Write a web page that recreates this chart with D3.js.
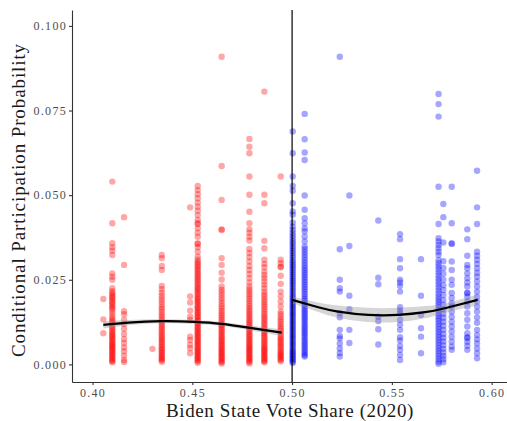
<!DOCTYPE html>
<html>
<head>
<meta charset="utf-8">
<script src="https://cdn.jsdelivr.net/npm/d3@7"></script>
<style>
  body { margin: 0; background: #ffffff; }
  svg { display: block; }
  .axis text { font-family: "Liberation Serif", "Times New Roman", serif; font-size: 12px; fill: #4d4d4d; letter-spacing: 1.3px; }
  .axis path, .axis line { stroke: #333333; stroke-width: 1.1px; }
  .title { font-family: "Liberation Serif", "Times New Roman", serif; font-size: 19px; fill: #1a1a1a; }
</style>
</head>
<body>
<svg id="chart" width="507" height="421"></svg>
<script>
// Axis limits and tick labels
const xLimits = [0.3897, 0.6077];
const yLimits = [-0.0052, 0.1047];
const xTicks = [0.40, 0.45, 0.50, 0.55, 0.60];
const yTicks = [0.000, 0.025, 0.050, 0.075, 0.100];
const cutoff = 0.50;

// Conditional participation probabilities, one array per state (by Biden vote share)
const v4054 = [0.0193, 0.0133, 0.0092];
const v4099 = [0.0540, 0.0417, 0.0358, 0.0346, 0.0336, 0.0323, 0.0269, 0.0259, 0.0250, 0.0225, 0.0216, 0.0211, 0.0206, 0.0200, 0.0197, 0.0191, 0.0186, 0.0181, 0.0176, 0.0170, 0.0166, 0.0160, 0.0151, 0.0143, 0.0136, 0.0130, 0.0126, 0.0121, 0.0114, 0.0109, 0.0104, 0.0098, 0.0094, 0.0089, 0.0085, 0.0081, 0.0077, 0.0072, 0.0068, 0.0064, 0.0060, 0.0056, 0.0052, 0.0049, 0.0045, 0.0041, 0.0037, 0.0033, 0.0029, 0.0025, 0.0021, 0.0017, 0.0013, 0.0009, 0.0006];
const v4158 = [0.0435, 0.0294, 0.0157, 0.0148, 0.0131, 0.0119, 0.0105, 0.0090, 0.0075, 0.0063, 0.0050, 0.0039, 0.0026, 0.0013, 0.0007];
const v4300 = [0.0046];
const v4347 = [0.0323, 0.0314, 0.0291, 0.0279, 0.0232, 0.0222, 0.0212, 0.0203, 0.0194, 0.0186, 0.0177, 0.0169, 0.0162, 0.0154, 0.0147, 0.0140, 0.0133, 0.0127, 0.0121, 0.0115, 0.0109, 0.0103, 0.0097, 0.0092, 0.0086, 0.0081, 0.0076, 0.0071, 0.0066, 0.0061, 0.0056, 0.0051, 0.0046, 0.0042, 0.0037, 0.0033, 0.0028, 0.0024, 0.0020, 0.0016, 0.0012, 0.0008];
const v4489 = [0.0464, 0.0201, 0.0183, 0.0159, 0.0141, 0.0131, 0.0082, 0.0072, 0.0058, 0.0048, 0.0033];
const v4527 = [0.0527, 0.0515, 0.0503, 0.0491, 0.0478, 0.0466, 0.0454, 0.0441, 0.0427, 0.0417, 0.0415, 0.0402, 0.0389, 0.0377, 0.0358, 0.0356, 0.0346, 0.0333, 0.0318, 0.0309, 0.0303, 0.0298, 0.0292, 0.0287, 0.0281, 0.0276, 0.0270, 0.0265, 0.0260, 0.0254, 0.0249, 0.0244, 0.0238, 0.0233, 0.0228, 0.0223, 0.0218, 0.0213, 0.0208, 0.0203, 0.0198, 0.0193, 0.0188, 0.0184, 0.0179, 0.0174, 0.0169, 0.0165, 0.0160, 0.0155, 0.0151, 0.0146, 0.0141, 0.0137, 0.0132, 0.0128, 0.0123, 0.0119, 0.0114, 0.0110, 0.0105, 0.0101, 0.0096, 0.0092, 0.0088, 0.0083, 0.0079, 0.0075, 0.0070, 0.0066, 0.0062, 0.0058, 0.0053, 0.0049, 0.0045, 0.0041, 0.0037, 0.0033, 0.0029, 0.0025, 0.0021, 0.0017, 0.0013, 0.0009, 0.0005];
const v4647 = [0.0909, 0.0586, 0.0486, 0.0399, 0.0397, 0.0314, 0.0294, 0.0271, 0.0251, 0.0230, 0.0221, 0.0213, 0.0205, 0.0196, 0.0188, 0.0180, 0.0172, 0.0165, 0.0158, 0.0151, 0.0145, 0.0139, 0.0133, 0.0127, 0.0121, 0.0116, 0.0111, 0.0106, 0.0101, 0.0096, 0.0091, 0.0086, 0.0081, 0.0077, 0.0072, 0.0068, 0.0063, 0.0059, 0.0055, 0.0050, 0.0046, 0.0042, 0.0038, 0.0034, 0.0030, 0.0026, 0.0022, 0.0018, 0.0014, 0.0010, 0.0006, 0.0003];
const v4786 = [0.0666, 0.0643, 0.0624, 0.0555, 0.0501, 0.0451, 0.0417, 0.0399, 0.0389, 0.0377, 0.0366, 0.0341, 0.0329, 0.0317, 0.0304, 0.0291, 0.0279, 0.0267, 0.0255, 0.0242, 0.0230, 0.0222, 0.0215, 0.0208, 0.0201, 0.0194, 0.0187, 0.0180, 0.0173, 0.0167, 0.0161, 0.0155, 0.0149, 0.0143, 0.0137, 0.0131, 0.0126, 0.0121, 0.0116, 0.0111, 0.0106, 0.0101, 0.0096, 0.0091, 0.0086, 0.0082, 0.0077, 0.0073, 0.0068, 0.0064, 0.0059, 0.0055, 0.0051, 0.0047, 0.0043, 0.0039, 0.0035, 0.0031, 0.0027, 0.0023, 0.0019, 0.0015, 0.0011, 0.0007, 0.0003];
const v4861 = [0.0806, 0.0501, 0.0476, 0.0365, 0.0343, 0.0309, 0.0297, 0.0287, 0.0274, 0.0264, 0.0255, 0.0245, 0.0235, 0.0225, 0.0215, 0.0207, 0.0200, 0.0192, 0.0185, 0.0178, 0.0171, 0.0164, 0.0157, 0.0150, 0.0144, 0.0138, 0.0132, 0.0126, 0.0120, 0.0114, 0.0108, 0.0103, 0.0098, 0.0093, 0.0088, 0.0083, 0.0078, 0.0073, 0.0068, 0.0063, 0.0058, 0.0053, 0.0049, 0.0045, 0.0041, 0.0037, 0.0033, 0.0029, 0.0025, 0.0021, 0.0017, 0.0013, 0.0009, 0.0006];
const v4943 = [0.0555, 0.0309, 0.0299, 0.0289, 0.0287, 0.0262, 0.0238, 0.0215, 0.0201, 0.0186, 0.0171, 0.0156, 0.0148, 0.0140, 0.0133, 0.0126, 0.0119, 0.0112, 0.0106, 0.0100, 0.0094, 0.0088, 0.0082, 0.0077, 0.0072, 0.0067, 0.0062, 0.0057, 0.0052, 0.0047, 0.0042, 0.0037, 0.0033, 0.0029, 0.0025, 0.0021, 0.0017, 0.0013, 0.0009];

const v5003 = [0.0688, 0.0624, 0.0555, 0.0527, 0.0513, 0.0476, 0.0452, 0.0442, 0.0419, 0.0407, 0.0397, 0.0388, 0.0380, 0.0372, 0.0364, 0.0357, 0.0350, 0.0343, 0.0336, 0.0329, 0.0322, 0.0315, 0.0308, 0.0302, 0.0296, 0.0290, 0.0284, 0.0278, 0.0272, 0.0266, 0.0260, 0.0254, 0.0248, 0.0242, 0.0236, 0.0230, 0.0224, 0.0218, 0.0212, 0.0206, 0.0200, 0.0195, 0.0190, 0.0185, 0.0180, 0.0175, 0.0170, 0.0165, 0.0160, 0.0155, 0.0150, 0.0145, 0.0140, 0.0135, 0.0130, 0.0125, 0.0120, 0.0115, 0.0110, 0.0105, 0.0100, 0.0095, 0.0090, 0.0085, 0.0080, 0.0075, 0.0070, 0.0065, 0.0060, 0.0055, 0.0050, 0.0045, 0.0040, 0.0036, 0.0032, 0.0028, 0.0024, 0.0020, 0.0016, 0.0012, 0.0008, 0.0004];
const v5063 = [0.0740, 0.0665, 0.0626, 0.0604, 0.0499, 0.0457, 0.0432, 0.0417, 0.0402, 0.0393, 0.0378, 0.0363, 0.0348, 0.0340, 0.0332, 0.0324, 0.0316, 0.0308, 0.0300, 0.0292, 0.0285, 0.0278, 0.0271, 0.0264, 0.0257, 0.0250, 0.0243, 0.0236, 0.0229, 0.0222, 0.0215, 0.0208, 0.0201, 0.0194, 0.0188, 0.0182, 0.0176, 0.0170, 0.0164, 0.0158, 0.0152, 0.0146, 0.0140, 0.0134, 0.0128, 0.0122, 0.0116, 0.0110, 0.0104, 0.0098, 0.0092, 0.0086, 0.0080, 0.0074, 0.0068, 0.0062, 0.0056, 0.0050, 0.0044, 0.0038, 0.0032, 0.0027, 0.0023];
const v5239 = [0.0909, 0.0340, 0.0250, 0.0225, 0.0215, 0.0151, 0.0139, 0.0102, 0.0084, 0.0077, 0.0062, 0.0047, 0.0034, 0.0023];
const v5287 = [0.0499, 0.0350, 0.0203, 0.0163, 0.0102, 0.0063];
const v5432 = [0.0425, 0.0256, 0.0237, 0.0141, 0.0128, 0.0104, 0.0059];
const v5541 = [0.0385, 0.0370, 0.0311, 0.0284, 0.0250, 0.0242, 0.0232, 0.0215, 0.0169, 0.0159, 0.0151, 0.0132, 0.0117, 0.0102, 0.0080, 0.0071, 0.0055, 0.0043, 0.0028, 0.0013];
const v5646 = [0.0311, 0.0203, 0.0146, 0.0107, 0.0082, 0.0033];
const v5734 = [0.0799, 0.0769, 0.0732, 0.0525, 0.0415, 0.0373, 0.0363, 0.0353, 0.0343, 0.0333, 0.0323, 0.0308, 0.0299, 0.0290, 0.0281, 0.0272, 0.0263, 0.0254, 0.0245, 0.0236, 0.0227, 0.0218, 0.0209, 0.0200, 0.0192, 0.0184, 0.0176, 0.0168, 0.0160, 0.0152, 0.0144, 0.0136, 0.0128, 0.0120, 0.0112, 0.0104, 0.0096, 0.0088, 0.0080, 0.0072, 0.0064, 0.0056, 0.0048, 0.0040, 0.0032, 0.0024, 0.0016, 0.0008, 0.0002];
const v5758 = [0.0474, 0.0435, 0.0360, 0.0305, 0.0285, 0.0268, 0.0250, 0.0234, 0.0220, 0.0205, 0.0190, 0.0176, 0.0163, 0.0150, 0.0138, 0.0126, 0.0114, 0.0102, 0.0090, 0.0079, 0.0068, 0.0057, 0.0046, 0.0035, 0.0025, 0.0015, 0.0006];
const v5800 = [0.0525, 0.0417, 0.0358, 0.0356, 0.0304, 0.0279, 0.0250, 0.0235, 0.0211, 0.0196, 0.0181, 0.0171, 0.0156, 0.0141, 0.0126, 0.0112, 0.0097, 0.0082, 0.0067, 0.0053, 0.0043];
const v5878 = [0.0399, 0.0370, 0.0321, 0.0294, 0.0284, 0.0269, 0.0255, 0.0242, 0.0230, 0.0212, 0.0210, 0.0200, 0.0186, 0.0171, 0.0151, 0.0132, 0.0112, 0.0092, 0.0080, 0.0078, 0.0067, 0.0055, 0.0043];
const v5927 = [0.0572, 0.0464, 0.0415, 0.0333, 0.0321, 0.0309, 0.0297, 0.0284, 0.0271, 0.0259, 0.0245, 0.0230, 0.0215, 0.0200, 0.0186, 0.0171, 0.0156, 0.0139, 0.0123, 0.0102, 0.0087, 0.0074, 0.0062, 0.0047, 0.0033, 0.0018];

const redShares = [0.4054, 0.4099, 0.4158, 0.4300, 0.4347, 0.4489, 0.4527, 0.4647, 0.4786, 0.4861, 0.4943];
const redColumns = [v4054, v4099, v4158, v4300, v4347, v4489, v4527, v4647, v4786, v4861, v4943];
const blueShares = [0.5003, 0.5063, 0.5239, 0.5287, 0.5432, 0.5541, 0.5646, 0.5734, 0.5758, 0.5800, 0.5878, 0.5927];
const blueColumns = [v5003, v5063, v5239, v5287, v5432, v5541, v5646, v5734, v5758, v5800, v5878, v5927];

// Quadratic fits on each side of the cutoff, with standard-error half widths
const redFitShare = [0.4054, 0.4179, 0.4347, 0.4514, 0.4647, 0.4781, 0.4948];
const redFitValue = [0.01167, 0.01235, 0.01276, 0.01255, 0.01196, 0.01087, 0.00939];
const redFitSE    = [0.0011, 0.0008, 0.0006, 0.0006, 0.0006, 0.0007, 0.0010];
const blueFitShare = [0.5000, 0.5131, 0.5231, 0.5382, 0.5532, 0.5666, 0.5766, 0.5930];
const blueFitValue = [0.01905, 0.01690, 0.01560, 0.01462, 0.01462, 0.01542, 0.01660, 0.01905];
const blueFitSE    = [0.0010, 0.0014, 0.0018, 0.0021, 0.0021, 0.0018, 0.0014, 0.0016];

const svg = d3.select("#chart");
const x = d3.scaleLinear().domain(xLimits).range([72, 507]);
const y = d3.scaleLinear().domain(yLimits).range([382, 10]);

function drawColumns(shares, columns, color) {
  const pts = shares.flatMap((s, i) => columns[i].map(v => [s, v]));
  svg.append("g")
    .selectAll("circle")
    .data(pts)
    .join("circle")
    .attr("cx", d => x(d[0]))
    .attr("cy", d => y(d[1]))
    .attr("r", 3.2)
    .attr("fill", color)
    .attr("fill-opacity", 0.35);
}
drawColumns(redShares, redColumns, "#ff0000");
drawColumns(blueShares, blueColumns, "#0000ff");

function drawFit(shares, values, se) {
  const rows = shares.map((s, i) => ({ s, v: values[i], e: se[i] }));
  svg.append("path")
    .datum(rows)
    .attr("fill", "#999999")
    .attr("fill-opacity", 0.4)
    .attr("d", d3.area().curve(d3.curveNatural)
      .x(d => x(d.s)).y0(d => y(d.v - d.e)).y1(d => y(d.v + d.e)));
  svg.append("path")
    .datum(rows)
    .attr("fill", "none")
    .attr("stroke", "#000000")
    .attr("stroke-width", 2.2)
    .attr("d", d3.line().curve(d3.curveNatural).x(d => x(d.s)).y(d => y(d.v)));
}
drawFit(redFitShare, redFitValue, redFitSE);
drawFit(blueFitShare, blueFitValue, blueFitSE);

// Cutoff line
svg.append("line")
  .attr("x1", x(cutoff)).attr("x2", x(cutoff))
  .attr("y1", y(yLimits[1])).attr("y2", y(yLimits[0]))
  .attr("stroke", "#000000").attr("stroke-width", 1.2);

// Axes
svg.append("g").attr("class", "axis")
  .attr("transform", "translate(72,0)")
  .call(d3.axisLeft(y).tickValues(yTicks).tickSize(3).tickSizeOuter(0).tickPadding(2).tickFormat(d3.format(".3f")));
svg.append("g").attr("class", "axis")
  .attr("transform", "translate(0,382)")
  .call(d3.axisBottom(x).tickValues(xTicks).tickSize(3).tickSizeOuter(0).tickPadding(3).tickFormat(d3.format(".2f")));

// Axis titles
svg.append("text").attr("class", "title")
  .attr("x", 290).attr("y", 417).attr("text-anchor", "middle")
  .style("letter-spacing", "0.6px")
  .text("Biden State Vote Share (2020)");
svg.append("text").attr("class", "title")
  .attr("transform", "translate(24.5,200) rotate(-90)").attr("text-anchor", "middle")
  .style("letter-spacing", "0.9px")
  .text("Conditional Participation Probability");
</script>
</body>
</html>
